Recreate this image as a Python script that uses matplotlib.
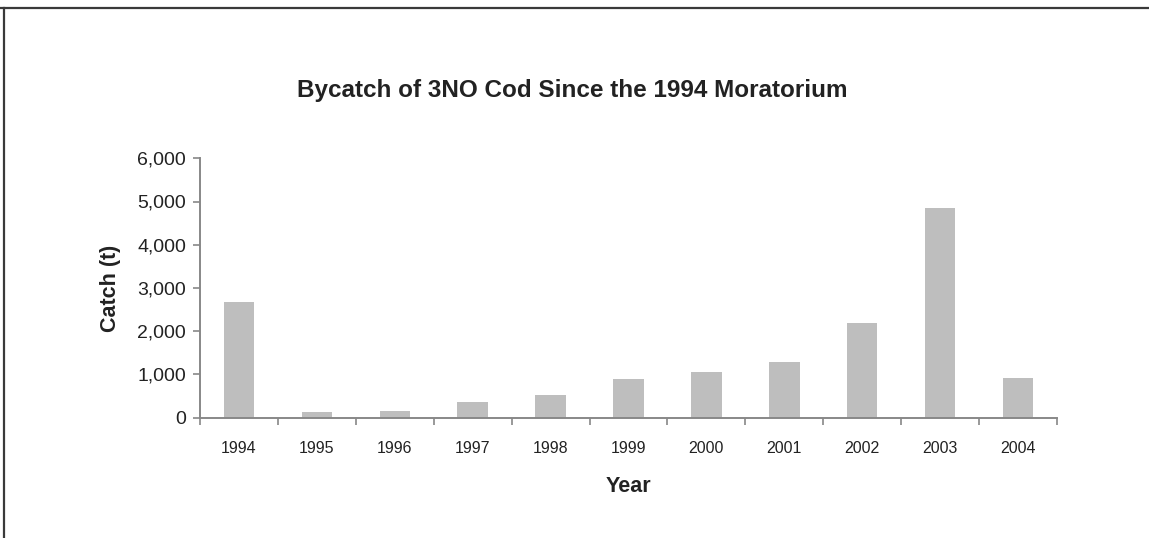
import matplotlib
matplotlib.use("Agg")
import matplotlib.pyplot as plt
from matplotlib.lines import Line2D
from matplotlib.ticker import FuncFormatter

years = ["1994", "1995", "1996", "1997", "1998", "1999", "2000", "2001", "2002", "2003", "2004"]
catch = [2680, 130, 150, 360, 520, 890, 1050, 1280, 2190, 4850, 925]
yticks = [0, 1000, 2000, 3000, 4000, 5000, 6000]

plt.rcParams['font.family'] = ['Liberation Sans', 'DejaVu Sans']

fig = plt.figure(figsize=(11.49, 5.38), dpi=100)
ax = fig.add_axes([200 / 1149, 1 - 417.5 / 538, 857 / 1149, 259.2 / 538])

idx = list(range(len(years)))
ax.bar(idx, catch, 0.39, color='#bebebe', edgecolor='none')

ax.set_xlim(-0.5, len(years) - 0.5)
ax.set_ylim(0, 6000)
ax.set_yticks(yticks)
ax.yaxis.set_major_formatter(FuncFormatter(lambda v, p: f"{int(v):,}"))

# category labels sit between the boundary ticks
ax.set_xticks([i - 0.5 for i in range(len(years) + 1)])
ax.set_xticklabels([])
ax.set_xticks(idx, minor=True)
ax.set_xticklabels(years, minor=True, fontsize=11.5, color='#222222')
ax.tick_params(axis='x', which='minor', length=0, pad=17)
ax.tick_params(axis='x', which='major', length=5, width=1.2, color='#888888', direction='out')
ax.tick_params(axis='y', length=5, width=1.2, color='#888888', direction='out', labelsize=14,
               labelcolor='#222222', pad=5)

for s in ['top', 'right']:
    ax.spines[s].set_visible(False)
for s in ['left', 'bottom']:
    ax.spines[s].set_color('#888888')
    ax.spines[s].set_linewidth(1.4)

ax.set_xlabel('Year', fontsize=15.5, fontweight='bold', color='#222222', labelpad=14)
ax.set_ylabel('Catch (t)', fontsize=15.5, fontweight='bold', color='#222222', labelpad=12)
fig.text(572 / 1149, 1 - 90 / 538, 'Bycatch of 3NO Cod Since the 1994 Moratorium',
         ha='center', va='center', fontsize=17.5, fontweight='bold', color='#222222')

# page frame (top and left edges)
fig.add_artist(Line2D([0, 1], [1 - 8 / 538, 1 - 8 / 538], transform=fig.transFigure,
                      color='#3a3a3a', linewidth=1.6))
fig.add_artist(Line2D([4 / 1149, 4 / 1149], [0, 1 - 8 / 538], transform=fig.transFigure,
                      color='#3a3a3a', linewidth=1.6))

fig.savefig('out.png', dpi=100)
